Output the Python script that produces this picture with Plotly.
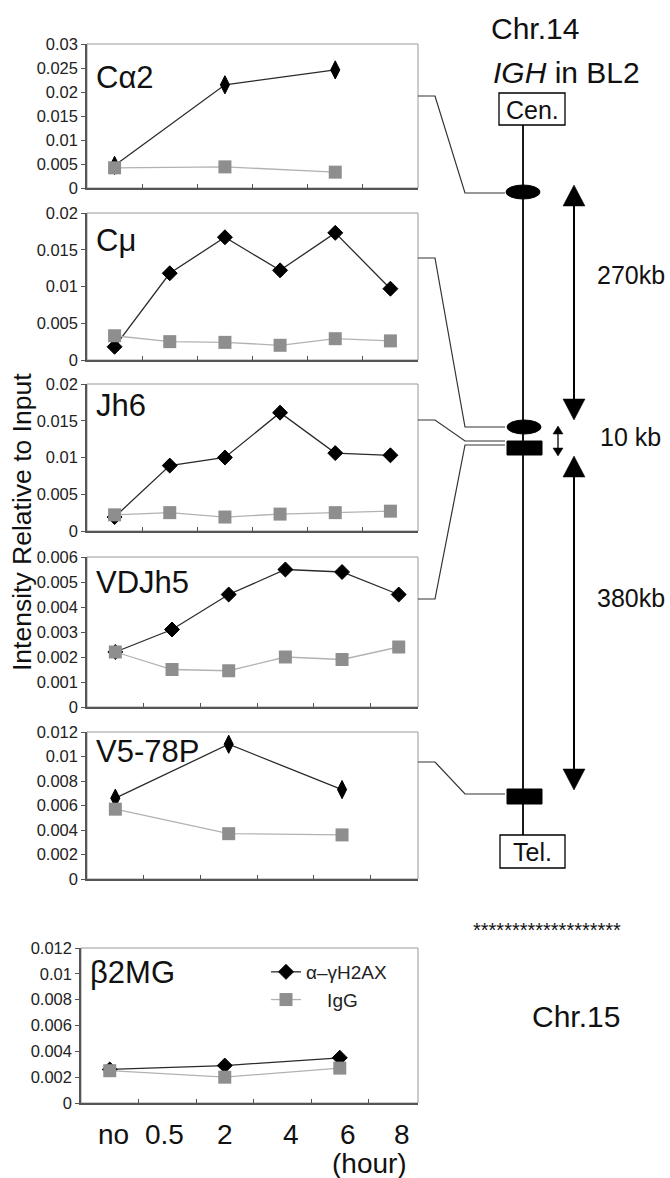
import plotly.graph_objects as go

W, H = 670, 1178
def fx(x): return x / W
def fy(y): return 1 - y / H

# ---------------- data ----------------
hours = ["no", "0.5", "2", "4", "6", "8"]
hours_sparse = ["no", "2", "6"]
series_names = ["α–γH2AX", "IgG"]
y_title = "Intensity Relative to Input"
panel_names = ["Cα2", "Cμ", "Jh6", "VDJh5", "V5-78P", "β2MG"]

ca2_x = hours_sparse
ca2_h2ax = [0.0047, 0.0215, 0.0246]
ca2_igg = [0.0042, 0.0044, 0.0033]

cmu_x = hours
cmu_h2ax = [0.0018, 0.0118, 0.0167, 0.0122, 0.0173, 0.0097]
cmu_igg = [0.0033, 0.0025, 0.0024, 0.0020, 0.0029, 0.0026]

jh6_x = hours
jh6_h2ax = [0.0019, 0.0089, 0.0100, 0.0161, 0.0106, 0.0103]
jh6_igg = [0.0022, 0.0025, 0.0019, 0.0023, 0.0025, 0.0027]

vdj_x = hours
vdj_h2ax = [0.0022, 0.0031, 0.0045, 0.0055, 0.0054, 0.0045]
vdj_igg = [0.0022, 0.0015, 0.00145, 0.0020, 0.0019, 0.0024]

v5_x = hours_sparse
v5_h2ax = [0.0066, 0.0110, 0.0073]
v5_igg = [0.0057, 0.0037, 0.0036]

b2_x = hours_sparse
b2_h2ax = [0.0026, 0.0029, 0.0035]
b2_igg = [0.0025, 0.0020, 0.0027]

y_max = [0.03, 0.02, 0.02, 0.006, 0.012, 0.012]
y_step = [0.005, 0.005, 0.005, 0.001, 0.002, 0.002]

diagram_labels = ["Chr.14", "<i>IGH</i> in BL2", "Cen.", "Tel.", "270kb", "10 kb", "380kb", "Chr.15"]

panels = [
    (ca2_x, ca2_h2ax, ca2_igg),
    (cmu_x, cmu_h2ax, cmu_igg),
    (jh6_x, jh6_h2ax, jh6_igg),
    (vdj_x, vdj_h2ax, vdj_igg),
    (v5_x, v5_h2ax, v5_igg),
    (b2_x, b2_h2ax, b2_igg),
]

# ---------------- layout constants ----------------
FONT = "Liberation Sans, Arial, Helvetica, sans-serif"
boxes = [(87, 418, 44, 188), (87, 418, 213, 360), (87, 418, 384, 531),
         (87, 418, 557, 707), (87, 418, 732, 879), (81, 418, 948, 1103)]
x_upper = [5.5, 5.5, 5.5, 5.34, 5.34, 5.36]
tall = [True, False, False, False, True, False]
label_pos = [0.06, 0.96, 2.0, 3.15, 4.14, 5.08]
label_cy = [78, 240, 405, 582, 751, 972]

fig = go.Figure()
for i, (xs, a, g) in enumerate(panels):
    sfx = "" if i == 0 else str(i + 1)
    xi = [hours.index(h) for h in xs]
    last = (i == 5)
    fig.add_trace(go.Scatter(
        x=xi, y=a, xaxis="x" + sfx, yaxis="y" + sfx, mode="lines+markers",
        name=series_names[0], showlegend=last, cliponaxis=False,
        line=dict(color="#2a2a2a", width=1.3),
        marker=dict(symbol="diamond-tall" if tall[i] else "diamond",
                    size=13 if tall[i] else 11.5, color="black",
                    line=dict(color="black", width=1))))
    fig.add_trace(go.Scatter(
        x=xi, y=g, xaxis="x" + sfx, yaxis="y" + sfx, mode="lines+markers",
        name=("\u00a0" * 4) + series_names[1], showlegend=last, cliponaxis=False,
        line=dict(color="#b2b2b2", width=1.3),
        marker=dict(symbol="square", size=13, color="#8e8e8e", line=dict(width=0))))

layout = dict(width=W, height=H, margin=dict(l=0, r=0, t=0, b=0, autoexpand=False),
              paper_bgcolor="white", plot_bgcolor="white",
              font=dict(family=FONT, color="#222"),
              showlegend=True,
              legend=dict(x=fx(266), y=fy(953), xanchor="left", yanchor="top",
                          font=dict(size=19, color="#222"), bgcolor="rgba(0,0,0,0)",
                          tracegroupgap=0, itemwidth=30))
shapes = []
annotations = []

def fmt(v):
    s = f"{v:.3f}".rstrip("0").rstrip(".")
    return s

for i, (l, r, t, b) in enumerate(boxes):
    sfx = "" if i == 0 else str(i + 1)
    n = int(round(y_max[i] / y_step[i]))
    tv = [k * y_step[i] for k in range(n + 1)]
    layout["xaxis" + sfx] = dict(
        domain=[fx(l), fx(r)], range=[-0.5, x_upper[i]], anchor="y" + sfx,
        showline=True, linecolor="#555", linewidth=1.5, showgrid=False, zeroline=False,
        ticks="inside", ticklen=4, tickcolor="#555", tickwidth=1, automargin=False,
        tickvals=[0.5, 1.5, 2.5, 3.5, 4.5], showticklabels=False, fixedrange=True)
    layout["yaxis" + sfx] = dict(
        domain=[fy(b), fy(t)], range=[0, y_max[i]], anchor="x" + sfx,
        showline=True, linecolor="#555", linewidth=1.5, showgrid=False, zeroline=False,
        ticks="outside", ticklen=4, tickcolor="#555", tickwidth=1, automargin=False,
        tickvals=tv, ticktext=[fmt(v) for v in tv],
        tickfont=dict(size=16.5, color="#222"), fixedrange=True)
    shapes.append(dict(type="rect", xref="x" + sfx + " domain", yref="y" + sfx + " domain",
                       x0=0, x1=1, y0=0, y1=1, line=dict(color="#999", width=1), layer="below"))
    annotations.append(dict(text=panel_names[i], xref="paper", yref="paper",
                            x=fx(l + 7), y=fy(label_cy[i]), xanchor="left", yanchor="middle",
                            showarrow=False, font=dict(size=31, color="#111")))

# bottom hour labels
for j, h in enumerate(hours):
    annotations.append(dict(text=h, xref="x6", yref="paper", x=label_pos[j], y=fy(1134),
                            xanchor="center", yanchor="middle", showarrow=False,
                            font=dict(size=28, color="#111")))
annotations.append(dict(text="(hour)", xref="paper", yref="paper", x=fx(369), y=fy(1163),
                        xanchor="center", yanchor="middle", showarrow=False,
                        font=dict(size=28, color="#111")))
annotations.append(dict(text=y_title, xref="paper", yref="paper", x=fx(22), y=fy(522),
                        textangle=-90, xanchor="center", yanchor="middle", showarrow=False,
                        font=dict(size=26.5, color="#111")))

# ---------------- diagram ----------------
def line(x0, y0, x1, y1, w=1.3, c="#222"):
    shapes.append(dict(type="line", xref="paper", yref="paper", x0=fx(x0), y0=fy(y0),
                       x1=fx(x1), y1=fy(y1), line=dict(color=c, width=w)))

def path(pts, fill=None, w=1.2, c="#333", close=False):
    d = "M" + " L".join(f"{fx(x):.5f},{fy(y):.5f}" for x, y in pts) + (" Z" if close else "")
    sh = dict(type="path", xref="paper", yref="paper", path=d, line=dict(color=c, width=w))
    if fill:
        sh["fillcolor"] = fill
    shapes.append(sh)

# chromosome
line(523, 125, 523, 835, w=1.8, c="black")
shapes.append(dict(type="rect", xref="paper", yref="paper", x0=fx(499), x1=fx(565),
                   y0=fy(125), y1=fy(93), line=dict(color="black", width=1.3), fillcolor="white"))
shapes.append(dict(type="rect", xref="paper", yref="paper", x0=fx(500), x1=fx(565),
                   y0=fy(868), y1=fy(835), line=dict(color="black", width=1.3), fillcolor="white"))
shapes.append(dict(type="circle", xref="paper", yref="paper", x0=fx(506), x1=fx(540),
                   y0=fy(199), y1=fy(185), line=dict(color="black", width=1), fillcolor="black"))
shapes.append(dict(type="circle", xref="paper", yref="paper", x0=fx(507), x1=fx(541),
                   y0=fy(434), y1=fy(420), line=dict(color="black", width=1), fillcolor="black"))
shapes.append(dict(type="rect", xref="paper", yref="paper", x0=fx(507), x1=fx(542),
                   y0=fy(455), y1=fy(441), line=dict(color="black", width=1), fillcolor="black"))
shapes.append(dict(type="rect", xref="paper", yref="paper", x0=fx(507), x1=fx(542),
                   y0=fy(804), y1=fy(789), line=dict(color="black", width=1), fillcolor="black"))

# connectors
path([(418, 96), (435, 96), (465, 193), (505, 193)])
path([(418, 258), (435, 258), (465, 427), (505, 427)])
path([(418, 420), (435, 420), (465, 441), (505, 441)])
path([(418, 599), (435, 599), (465, 445), (505, 445)])
path([(418, 762), (435, 762), (465, 794), (505, 794)])

# double arrows
def darrow(x, ytop, ybot, hw, hh, w):
    line(x, ytop + hh - 1, x, ybot - hh + 1, w=w, c="black")
    path([(x, ytop), (x - hw, ytop + hh), (x + hw, ytop + hh)], fill="black", w=0.5, c="black", close=True)
    path([(x, ybot), (x - hw, ybot - hh), (x + hw, ybot - hh)], fill="black", w=0.5, c="black", close=True)

darrow(574, 185, 420, 11, 21, 2)
darrow(558, 426, 456, 5, 8, 1.3)
darrow(574, 456, 790, 11, 21, 2)

def txt(s, x, y, size, anchor="center"):
    annotations.append(dict(text=s, xref="paper", yref="paper", x=fx(x), y=fy(y),
                            xanchor=anchor, yanchor="middle", showarrow=False,
                            font=dict(size=size, color="#111")))

txt(diagram_labels[0], 535, 29, 30)
txt(diagram_labels[1], 566, 73, 30)
txt(diagram_labels[2], 532, 110, 25)
txt(diagram_labels[3], 532, 852, 25)
txt(diagram_labels[4], 667, 275, 25, anchor="right")
txt(diagram_labels[5], 663, 437, 25, anchor="right")
txt(diagram_labels[6], 667, 598, 25, anchor="right")
txt("*" * 19, 547, 930, 20)
txt(diagram_labels[7], 576, 1016, 30)

layout["shapes"] = shapes
layout["annotations"] = annotations
fig.update_layout(**layout)
fig.write_html("out.html", config={"displayModeBar": False},
               post_script="document.body.style.margin='0';document.body.style.overflow='hidden';")
